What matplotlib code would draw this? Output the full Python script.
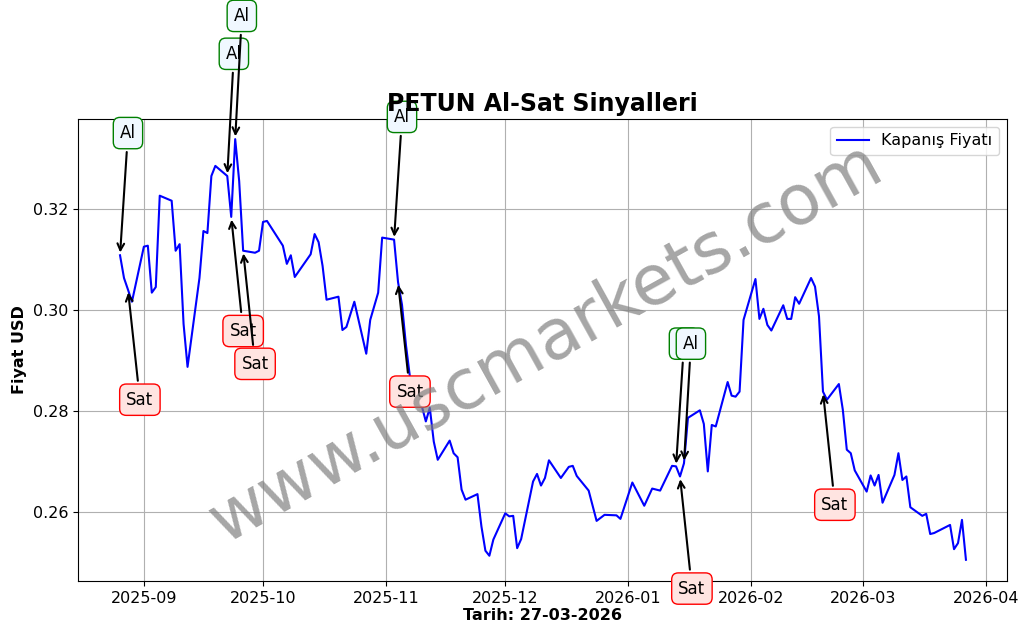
import matplotlib
matplotlib.use("Agg")
import matplotlib.pyplot as plt
import matplotlib.dates as mdates
import pandas as pd

dates = [
    "2025-08-26", "2025-08-27", "2025-08-28", "2025-08-29", "2025-09-01", "2025-09-02", "2025-09-03",
    "2025-09-04", "2025-09-05", "2025-09-08", "2025-09-09", "2025-09-10", "2025-09-11", "2025-09-12",
    "2025-09-15", "2025-09-16", "2025-09-17", "2025-09-18", "2025-09-19", "2025-09-22", "2025-09-23",
    "2025-09-24", "2025-09-25", "2025-09-26", "2025-09-29", "2025-09-30", "2025-10-01", "2025-10-02",
    "2025-10-06", "2025-10-07", "2025-10-08", "2025-10-09", "2025-10-13", "2025-10-14", "2025-10-15",
    "2025-10-16", "2025-10-17", "2025-10-20", "2025-10-21", "2025-10-22", "2025-10-24", "2025-10-27",
    "2025-10-28", "2025-10-30", "2025-10-31", "2025-11-03", "2025-11-04", "2025-11-05", "2025-11-06",
    "2025-11-07", "2025-11-10", "2025-11-11", "2025-11-12", "2025-11-13", "2025-11-14", "2025-11-17",
    "2025-11-18", "2025-11-19", "2025-11-20", "2025-11-21", "2025-11-24", "2025-11-25", "2025-11-26",
    "2025-11-27", "2025-11-28", "2025-12-01", "2025-12-02", "2025-12-03", "2025-12-04", "2025-12-05",
    "2025-12-08", "2025-12-09", "2025-12-10", "2025-12-11", "2025-12-12", "2025-12-15", "2025-12-17",
    "2025-12-18", "2025-12-19", "2025-12-22", "2025-12-24", "2025-12-26", "2025-12-29", "2025-12-30",
    "2026-01-02", "2026-01-05", "2026-01-07", "2026-01-09", "2026-01-12", "2026-01-13", "2026-01-14",
    "2026-01-15", "2026-01-16", "2026-01-19", "2026-01-20", "2026-01-21", "2026-01-22", "2026-01-23",
    "2026-01-26", "2026-01-27", "2026-01-28", "2026-01-29", "2026-01-30", "2026-02-02", "2026-02-03",
    "2026-02-04", "2026-02-05", "2026-02-06", "2026-02-09", "2026-02-10", "2026-02-11", "2026-02-12",
    "2026-02-13", "2026-02-16", "2026-02-17", "2026-02-18", "2026-02-19", "2026-02-20", "2026-02-23",
    "2026-02-24", "2026-02-25", "2026-02-26", "2026-02-27", "2026-03-02", "2026-03-03", "2026-03-04",
    "2026-03-05", "2026-03-06", "2026-03-09", "2026-03-10", "2026-03-11", "2026-03-12", "2026-03-13",
    "2026-03-16", "2026-03-17", "2026-03-18", "2026-03-19", "2026-03-23", "2026-03-24", "2026-03-25",
    "2026-03-26", "2026-03-27",
]
prices = [
    0.3108, 0.3063, 0.3040, 0.3016, 0.3125, 0.3127, 0.3034,
    0.3045, 0.3226, 0.3216, 0.3117, 0.3130, 0.2972, 0.2887,
    0.3063, 0.3156, 0.3152, 0.3265, 0.3285, 0.3265, 0.3184,
    0.3338, 0.3255, 0.3117, 0.3113, 0.3117, 0.3174, 0.3176,
    0.3127, 0.3091, 0.3108, 0.3065, 0.3110, 0.3150, 0.3134,
    0.3087, 0.3020, 0.3026, 0.2960, 0.2966, 0.3016, 0.2913,
    0.2980, 0.3034, 0.3143, 0.3139, 0.3055, 0.3010, 0.2930,
    0.2867, 0.2809, 0.2779, 0.2806, 0.2739, 0.2703, 0.2741,
    0.2716, 0.2708, 0.2644, 0.2624, 0.2635, 0.2571, 0.2523,
    0.2513, 0.2545, 0.2597, 0.2591, 0.2592, 0.2528, 0.2546,
    0.2660, 0.2675, 0.2652, 0.2667, 0.2702, 0.2667, 0.2689,
    0.2691, 0.2671, 0.2642, 0.2582, 0.2594, 0.2593, 0.2586,
    0.2658, 0.2612, 0.2646, 0.2642, 0.2691, 0.2690, 0.2670,
    0.2696, 0.2786, 0.2801, 0.2774, 0.2680, 0.2772, 0.2769,
    0.2857, 0.2830, 0.2828, 0.2838, 0.2980, 0.3061, 0.2982,
    0.3002, 0.2970, 0.2959, 0.3009, 0.2982, 0.2982, 0.3025,
    0.3012, 0.3063, 0.3046, 0.2987, 0.2838, 0.2822, 0.2853,
    0.2802, 0.2723, 0.2716, 0.2682, 0.2640, 0.2672, 0.2652,
    0.2673, 0.2618, 0.2673, 0.2716, 0.2663, 0.2670, 0.2609,
    0.2592, 0.2596, 0.2556, 0.2558, 0.2574, 0.2526, 0.2538,
    0.2584, 0.2505,
]

# signal: (label, point date, text date, text value)
signals = [
    ("Al", "2025-08-26", "2025-08-28", 0.3350),
    ("Sat", "2025-08-28", "2025-08-31", 0.2822),
    ("Al", "2025-09-22", "2025-09-23 16:00", 0.3507),
    ("Al", "2025-09-24", "2025-09-25 16:00", 0.3582),
    ("Sat", "2025-09-23", "2025-09-26", 0.2958),
    ("Sat", "2025-09-26", "2025-09-29", 0.2893),
    ("Al", "2025-11-03", "2025-11-05", 0.3382),
    ("Sat", "2025-11-04", "2025-11-07", 0.2838),
    ("Al", "2026-01-13", "2026-01-15", 0.2933),
    ("Al", "2026-01-15", "2026-01-16 18:00", 0.2933),
    ("Sat", "2026-01-14", "2026-01-17", 0.2448),
    ("Sat", "2026-02-19", "2026-02-22", 0.2614),
]

x = pd.to_datetime(dates)
price_map = dict(zip(dates, prices))

fig, ax = plt.subplots(figsize=(10.29, 6.36), dpi=100)
fig.subplots_adjust(left=0.0758, right=0.9786, top=0.813, bottom=0.0865)

ax.plot(x, prices, color="blue", lw=1.5, label="Kapanış Fiyatı")

for label, d, td, tv in signals:
    if label == "Al":
        box = dict(boxstyle="round,pad=0.4", fc="aliceblue", ec="green")
    else:
        box = dict(boxstyle="round,pad=0.4", fc="mistyrose", ec="red")
    ax.annotate(label, xy=(pd.Timestamp(d), price_map[d]), xytext=(pd.Timestamp(td), tv),
                fontsize=12, ha="center", va="center", bbox=box,
                arrowprops=dict(arrowstyle="->", color="black", lw=1.5), annotation_clip=False)

ax.set_xlim(pd.Timestamp("2025-08-15 10:00"), pd.Timestamp("2026-04-06 08:00"))
ax.set_ylim(0.2463, 0.3378)
ax.xaxis.set_major_locator(mdates.MonthLocator())
ax.xaxis.set_major_formatter(mdates.DateFormatter("%Y-%m"))
ax.tick_params(labelsize=11.5)
ax.grid(True, color="#b0b0b0")
ax.set_title("PETUN Al-Sat Sinyalleri", fontsize=17, fontweight="bold")
ax.set_xlabel("Tarih: 27-03-2026", fontsize=11.5, fontweight="bold", labelpad=2)
ax.set_ylabel("Fiyat USD", fontsize=11.5, fontweight="bold")
ax.legend(loc="upper right", fontsize=11.5)

fig.text(0.53, 0.46, "www.uscmarkets.com", fontsize=50, color="gray", alpha=0.7,
         rotation=29, ha="center", va="center")

fig.savefig("out.png", dpi=100)
